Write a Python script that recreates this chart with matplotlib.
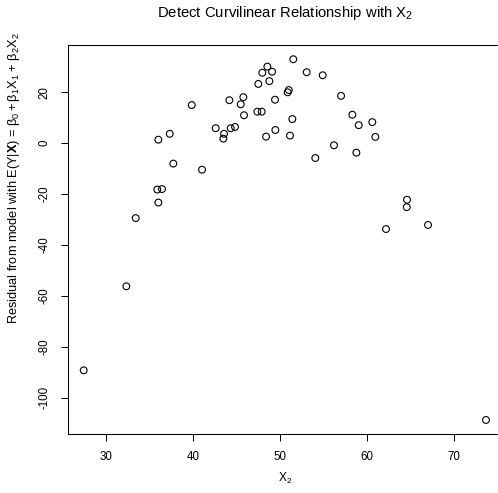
# Residual vs X2 scatter: curvilinear relationship check
import matplotlib
matplotlib.use('Agg')
import matplotlib.pyplot as plt

plt.rcParams['font.family'] = ['Liberation Sans', 'DejaVu Sans']
plt.rcParams['mathtext.fontset'] = 'custom'
plt.rcParams['mathtext.rm'] = 'Liberation Sans'
plt.rcParams['mathtext.it'] = 'Liberation Sans'
plt.rcParams['mathtext.bf'] = 'Liberation Sans:bold'

# data
x2 = [48.51, 47.93, 49.05, 47.47, 48.74, 39.82, 44.14, 45.75, 45.45, 49.39,
      45.83, 47.36, 47.86, 42.57, 43.53, 43.45, 44.30, 44.79, 49.43, 48.36,
      35.98, 37.29, 37.70, 41.00, 35.86, 36.40, 35.98, 33.38, 51.49, 53.03,
      54.87, 50.97, 50.85, 56.98, 51.38, 58.28, 59.01, 60.57, 51.11, 60.92,
      56.17, 58.74, 54.02, 64.56, 64.53, 66.98, 62.15, 32.30, 27.40, 73.64]
resid = [30.1, 27.7, 28.1, 23.3, 24.4, 15.0, 16.9, 18.1, 15.3, 17.1,
         11.0, 12.4, 12.4, 5.9, 3.7, 1.8, 5.9, 6.4, 5.2, 2.6,
         1.4, 3.7, -8.0, -10.4, -18.2, -18.0, -23.3, -29.4, 33.0, 27.9,
         26.7, 20.9, 20.0, 18.6, 9.5, 11.2, 7.1, 8.3, 3.0, 2.5,
         -0.8, -3.7, -5.8, -22.2, -25.1, -32.1, -33.7, -56.2, -89.2, -108.7]
xticks = [30, 40, 50, 60, 70]
yticks = [-100, -80, -60, -40, -20, 0, 20]

W, H = 498, 493
fig = plt.figure(figsize=(W / 100, H / 100), dpi=100)
left, right, top, bottom = 67.6, 502.1, 44.8, 434.4  # 绘图区像素边界
ax = fig.add_axes([left / W, 1 - bottom / H, (right - left) / W, (bottom - top) / H])

ax.scatter(x2, resid, s=24, facecolors='none', edgecolors='black', linewidths=0.8)

# R 默认 4% 扩展
xr = max(x2) - min(x2)
yr = max(resid) - min(resid)
ax.set_xlim(min(x2) - 0.04 * xr, max(x2) + 0.04 * xr)
ax.set_ylim(min(resid) - 0.04 * yr, max(resid) + 0.04 * yr)

ax.set_xticks(xticks)
ax.set_yticks(yticks)
ax.set_yticklabels([str(t) for t in yticks], rotation=90, va='center')
ax.tick_params(direction='out', length=5.3, width=0.75, labelsize=8.3, pad=7)
for sp in ax.spines.values():
    sp.set_linewidth(0.75)

fig.text(285 / W, 1 - 13 / H, 'Detect Curvilinear Relationship with X$_2$',
         ha='center', va='center', fontsize=10.7)
fig.text(285 / W, 1 - 478 / H, 'X$_2$', ha='center', va='center', fontsize=8.6)
fig.text(14 / W, 1 - 178 / H,
         r'Residual from model with E(Y|$\mathbf{X}$) = $\beta_0 + \beta_1$X$_1$ + $\beta_2$X$_2$',
         ha='center', va='center', rotation=90, fontsize=9.2)

fig.savefig('out.png', dpi=100)
